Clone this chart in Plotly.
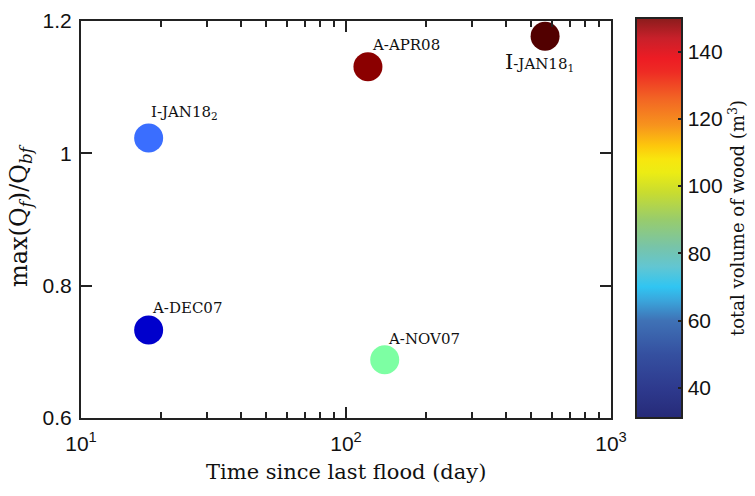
import numpy as np
import plotly.graph_objects as go

# ---- data ----
events = ["I-JAN18_2", "A-DEC07", "A-APR08", "I-JAN18_1", "A-NOV07"]
time_days = [18.0, 18.0, 121.0, 564.0, 140.0]
qratio = [1.023, 0.733, 1.131, 1.177, 0.688]
point_colors = ["#3a6eff", "#0000cc", "#8b0000", "#520000", "#7dffa3"]
label_texts = [
    "I-JAN18<sub>2</sub>",
    "A-DEC07",
    "A-APR08",
    "<span style='font-size:21px'>I</span>-JAN18<sub>1</sub>",
    "A-NOV07",
]
label_dy = [-26, -22, -22, 26, -21]
label_dx = [0, 1, 2, -6, 1]
label_anchor = ["left", "left", "left", "center", "left"]

x_tickvals = [10, 100, 1000]
x_ticktext = ["10<sup>1</sup>", "10<sup>2</sup>", "10<sup>3</sup>"]
x_minor = [v * d for d in (10, 100) for v in range(2, 10)]
y_tickvals = [0.6, 0.8, 1.0, 1.2]
y_ticktext = ["0.6", "0.8", "1", "1.2"]

cb_min, cb_max = 31, 150
cb_ticks = [40, 60, 80, 100, 120, 140]
cb_stops = [
    (31, "#262a78"), (40, "#2e3a8e"), (50, "#3550a0"), (60, "#3f72b6"),
    (66, "#3aa6dc"), (70, "#30c5f2"), (76, "#62c6d2"), (82, "#78c4a8"),
    (90, "#98cc6c"), (98, "#c8dc30"), (104, "#ecec14"), (108, "#f8e60e"),
    (112, "#fdc70c"), (118, "#f7941d"), (126, "#f26524"), (134, "#ee2b24"),
    (138, "#ed1c24"), (144, "#c8202a"), (150, "#8a1c1c"),
]
colorscale = [[(v - cb_min) / (cb_max - cb_min), c] for v, c in cb_stops]

SERIF = "DejaVu Serif"
SANS = "Liberation Sans"

fig = go.Figure()

fig.add_trace(go.Scatter(
    x=time_days, y=qratio, mode="markers",
    marker=dict(size=29, color=point_colors, line=dict(width=0)),
    showlegend=False, hoverinfo="x+y",
))

# colorbar carrier (invisible)
fig.add_trace(go.Scatter(
    x=[time_days[0]], y=[qratio[0]], mode="markers",
    marker=dict(size=1, opacity=0, color=[cb_min], cmin=cb_min, cmax=cb_max,
                colorscale=colorscale, showscale=True,
                colorbar=dict(
                    thickness=46, thicknessmode="pixels",
                    len=400, lenmode="pixels",
                    x=1.047, xanchor="left", y=0, yanchor="bottom",
                    xpad=0, ypad=0,
                    outlinewidth=2, outlinecolor="#222",
                    tickmode="array", tickvals=cb_ticks,
                    ticks="inside", ticklen=5, tickwidth=2, tickcolor="#222",
                    tickfont=dict(family=SANS, size=21, color="#111"),
                    title=dict(text="total volume of wood (m<sup>3</sup>)",
                               side="right",
                               font=dict(family=SERIF, size=18, color="#111")),
                )),
    showlegend=False, hoverinfo="skip",
))

for xv, yv, t, dy, dx, anc in zip(time_days, qratio, label_texts, label_dy, label_dx, label_anchor):
    fig.add_annotation(
        x=np.log10(xv), y=yv, xref="x", yref="y", text=t, showarrow=False,
        xanchor=anc, yanchor="middle", yshift=-dy, xshift=dx,
        font=dict(family=SERIF, size=15, color="#111"),
    )

fig.add_annotation(
    x=0.5, y=0, xref="paper", yref="paper", yanchor="top", yshift=-40,
    text="Time since last flood (day)", showarrow=False,
    font=dict(family=SERIF, size=21, color="#111"),
)
fig.add_annotation(
    x=0, y=0.51, xref="paper", yref="paper", xanchor="right", xshift=-43,
    text="max(Q<sub><i>f</i></sub>)/Q<sub><i>bf</i></sub>", textangle=-90,
    showarrow=False, font=dict(family=SERIF, size=24, color="#111"),
)

axis_common = dict(
    showline=True, linewidth=2, linecolor="#222", mirror="allticks",
    ticks="inside", ticklen=11, tickwidth=2, tickcolor="#222",
    showgrid=False, zeroline=False,
    tickfont=dict(family=SANS, size=21, color="#111"),
)

fig.update_xaxes(
    type="log", range=[1, 3], tickmode="array", tickvals=x_tickvals,
    ticktext=x_ticktext, ticklabelstandoff=6,
    minor=dict(tickmode="array", tickvals=x_minor, ticks="inside",
               ticklen=6, tickwidth=1.5, tickcolor="#222", showgrid=False),
    **axis_common,
)
fig.update_yaxes(
    range=[0.6, 1.2], tickmode="array", tickvals=y_tickvals, ticktext=y_ticktext,
    ticklabelstandoff=3,
    **axis_common,
)

fig.update_layout(
    width=755, height=496,
    margin=dict(l=81, r=144, t=21, b=78, autoexpand=False),
    plot_bgcolor="white", paper_bgcolor="white",
)

fig.write_html("out.html")
